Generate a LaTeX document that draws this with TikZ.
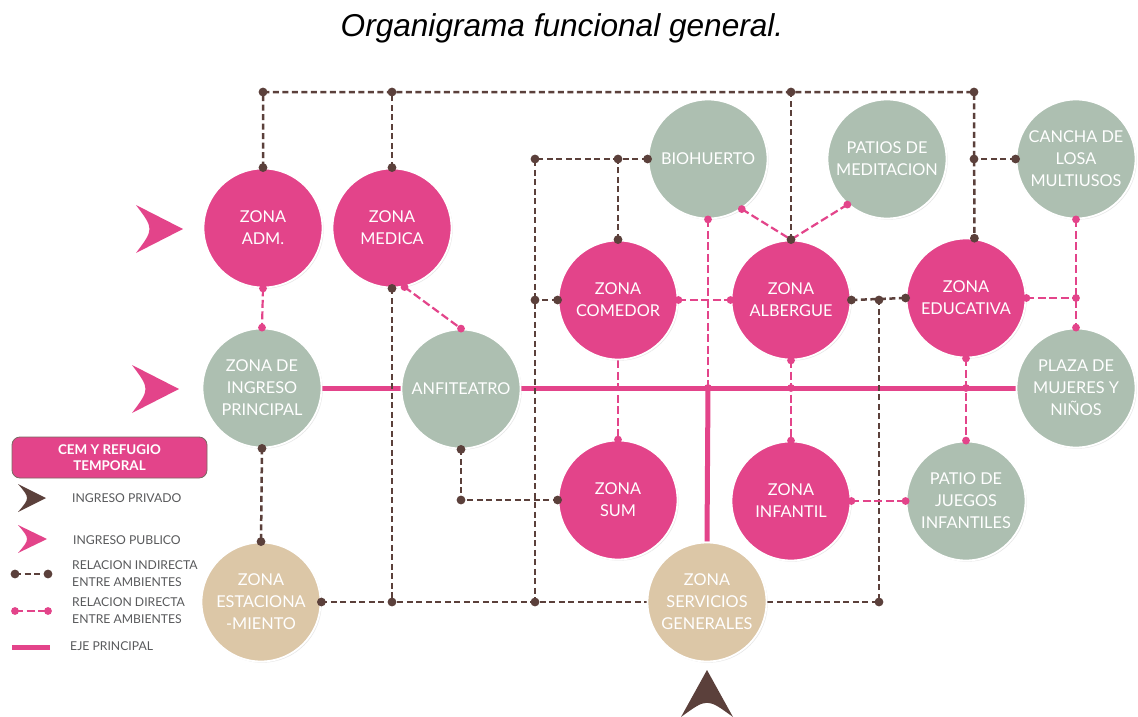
\documentclass[tikz,border=0pt]{standalone}
\usepackage{fontspec}
\setmainfont{Lato}
\newfontfamily\titlefont{Liberation Sans}
\usetikzlibrary{backgrounds,shadows}
\definecolor{pk}{HTML}{E3448A}
\definecolor{sage}{HTML}{ADBFB1}
\definecolor{tan}{HTML}{DCC7A7}
\definecolor{brn}{HTML}{5B403B}
\definecolor{lgray}{HTML}{58595B}
\newcommand\brdot[1]{\fill[brn] (#1) circle[radius=4.4pt];}
\newcommand\pkdot[1]{\fill[pk] (#1) circle[radius=3.9pt];}
\begin{document}
\begin{tikzpicture}[x=1pt,y=-1pt,
 zone/.style={circle, minimum size=119pt, inner sep=0pt, draw=white, line width=1.8pt, text=white,
   font=\fontsize{16.3}{22}\selectfont, align=center,
   drop shadow={shadow xshift=1.2pt,shadow yshift=-1.2pt,opacity=0.18}},
 pz/.style={zone, fill=pk}, gz/.style={zone, fill=sage}, tz/.style={zone, fill=tan},
 ind/.style={draw=brn, line width=2.5pt, dash pattern=on 6pt off 3.5pt},
 dir/.style={draw=pk, line width=2.2pt, dash pattern=on 8pt off 3.5pt},
 eje/.style={draw=pk, line width=5pt},
 lgt/.style={text=lgray, font=\fontsize{12.2}{17}\selectfont, anchor=west, align=left, inner sep=0pt}
]
\useasboundingbox (0,0) rectangle (1138,717);

\node (title) at (562,28) {\titlefont\itshape\fontsize{31.6}{36}\selectfont Organigrama funcional general.};

% zones
\node[pz] (adm) at (263,228) {ZONA\\ADM.};
\node[pz] (med) at (392,228) {ZONA\\MEDICA};
\node[gz] (ing) at (262,388) {ZONA DE\\INGRESO\\PRINCIPAL};
\node[gz] (anf) at (461,389) {ANFITEATRO};
\node[gz] (bio) at (708,159) {BIOHUERTO};
\node[gz] (pat) at (887,159) {PATIOS DE\\MEDITACION};
\node[gz] (can) at (1076,159) {CANCHA DE\\LOSA\\MULTIUSOS};
\node[pz] (com) at (618,300) {ZONA\\COMEDOR};
\node[pz] (alb) at (791,300) {ZONA\\ALBERGUE};
\node[pz] (edu) at (966,298) {ZONA\\EDUCATIVA};
\node[gz] (pla) at (1076,388) {PLAZA DE\\MUJERES Y\\NIÑOS};
\node[pz] (sum) at (618,500) {ZONA\\SUM};
\node[pz] (inf) at (791,501) {ZONA\\INFANTIL};
\node[gz] (jue) at (966,501) {PATIO DE\\JUEGOS\\INFANTILES};
\node[tz] (ser) at (707,602) {ZONA\\SERVICIOS\\GENERALES};
\node[tz] (est) at (261,602) {ZONA\\ESTACIONA\\-MIENTO};

\coordinate (T4) at (974,92);
\coordinate (C1) at (535,602);
\coordinate (D) at (879,300);

\begin{pgfonlayer}{background}
 \fill[white] (0,0) rectangle (1138,717);
 % main axis
 \draw[eje] (ing.east) -- (pla.west);
 \draw[eje] (bio.south |- ing.east) -- (ser.north);
 % indirect relations
 \draw[ind] (adm.north) |- (T4) -- (edu.82);
 \draw[ind] (med.north) -- (med.north |- T4);
 \draw[ind] (alb.north) -- (alb.north |- T4);
 \draw[ind] (can.west) -- (can.west -| T4);
 \draw[ind] (bio.west) -| (C1);
 \draw[ind] (com.north) -- (com.north |- bio.west);
 \draw[ind] (com.west) -- (com.west -| C1);
 \draw[ind] (med.south) -- (med.south |- C1);
 \draw[ind] (est.east) -- (ser.west);
 \draw[ind] (ser.east) -| (D);
 \draw[ind] (alb.east) -- (edu.west);
 \draw[ind] (anf.south) |- (sum.west);
 \draw[ind] (ing.south) -- (est.north);
 % direct relations
 \draw[dir] (adm.south) -- (ing.north);
 \draw[dir] (med.-78) -- (anf.north);
 \draw[dir] (com.east) -- (alb.west);
 \draw[dir] (com.south) -- (sum.north);
 \draw[dir] (alb.south) -- (inf.north);
 \draw[dir] (edu.south) -- (jue.north);
 \draw[dir] (can.south) -- (pla.north);
 \draw[dir] (edu.east) -- (edu.east -| pla.north);
 \draw[dir] (bio.-56) -- (alb.north);
 \draw[dir] (pat.-131) -- (alb.north);
 \draw[dir] (bio.south) -- (bio.south |- ing.east);
 \draw[dir] (inf.east) -- (jue.west);
\end{pgfonlayer}

% brown dots
\brdot{adm.north}\brdot{adm.north |- T4}\brdot{med.north |- T4}\brdot{med.north}
\brdot{alb.north |- T4}\brdot{alb.north}\brdot{T4}\brdot{edu.82}
\brdot{can.west}\brdot{can.west -| T4}
\brdot{bio.west}\brdot{bio.west -| C1}\brdot{com.north |- bio.west}\brdot{com.north}
\brdot{com.west}\brdot{com.west -| C1}
\brdot{med.south}\brdot{med.south |- C1}\brdot{C1}\brdot{est.east}
\brdot{ser.east -| D}\brdot{D}\brdot{alb.east}\brdot{edu.west}
\brdot{anf.south}\brdot{anf.south |- sum.west}\brdot{sum.west}
\brdot{ing.south}\brdot{est.north}
% pink dots
\pkdot{adm.south}\pkdot{ing.north}\pkdot{med.-78}\pkdot{anf.north}
\pkdot{com.east}\pkdot{alb.west}\pkdot{sum.north}
\pkdot{alb.south}\pkdot{inf.north}\pkdot{alb.south |- ing.east}
\pkdot{edu.south}\pkdot{jue.north}\pkdot{edu.south |- ing.east}
\pkdot{can.south}\pkdot{pla.north}\pkdot{edu.east -| pla.north}\pkdot{edu.east}
\pkdot{bio.-56}\pkdot{pat.-131}\pkdot{bio.south}\pkdot{bio.south |- ing.east}
\pkdot{inf.east}\pkdot{jue.west}

% entrances
\fill[pk] (183,229) -- (136,205) .. controls (154,229) .. (136,253) -- cycle;
\fill[pk] (179,389) -- (132,365) .. controls (150,389) .. (132,413) -- cycle;
\fill[brn] (707,670) -- (681,717) .. controls (707,698) .. (733,717) -- cycle;

% legend
\node (leg) [rectangle, rounded corners=8pt, fill=pk, draw=brn!80, line width=0.8pt,
  minimum width=195pt, minimum height=41pt, text=white,
  font=\bfseries\fontsize{13.4}{16}\selectfont, align=center] at (109.5,457.5) {CEM Y REFUGIO\\TEMPORAL};
\fill[brn] (46,498) -- (18,484) .. controls (30,498) .. (18,512) -- cycle;
\fill[pk] (47,539) -- (18,525) .. controls (30,539) .. (18,553) -- cycle;
\coordinate (la1) at (15,574); \coordinate (la2) at (48,574);
\coordinate (lb1) at (15,611); \coordinate (lb2) at (48,611);
\coordinate (lc1) at (12,647); \coordinate (lc2) at (50,647);
\draw[ind] (la1) -- (la2);
\brdot{la1}\brdot{la2}
\draw[dir] (lb1) -- (lb2);
\pkdot{lb1}\pkdot{lb2}
\draw[eje] (lc1) -- (lc2);
\node[lgt] (l1) at (72,498) {INGRESO PRIVADO};
\node[lgt] (l2) at (73,540) {INGRESO PUBLICO};
\node[lgt] (l3) at (72,574) {RELACION INDIRECTA\\ENTRE AMBIENTES};
\node[lgt] (l4) at (72,611) {RELACION DIRECTA\\ENTRE AMBIENTES};
\node[lgt] (l5) at (70,646) {EJE PRINCIPAL};
\end{tikzpicture}
\end{document}
